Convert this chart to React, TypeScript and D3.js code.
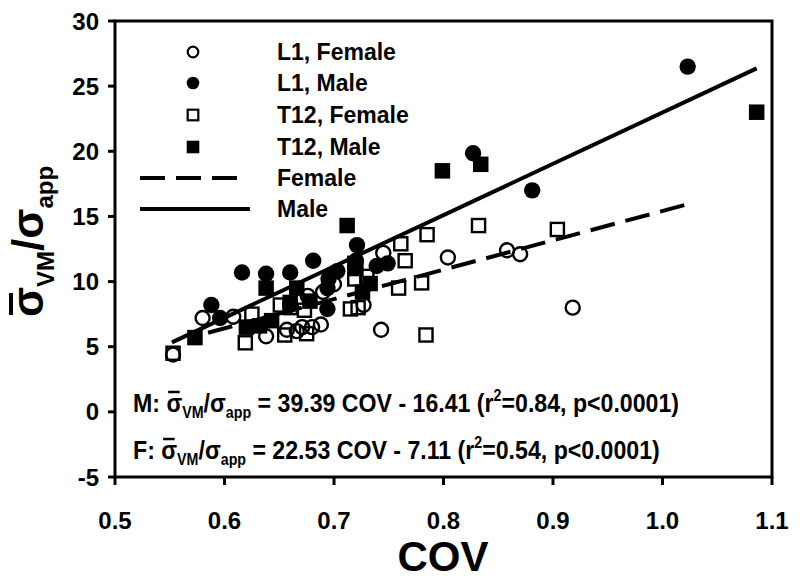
import React from "react";
import * as d3 from "d3";

const xTicks = [0.5, 0.6, 0.7, 0.8, 0.9, 1.0, 1.1];
const yTicks = [-5, 0, 5, 10, 15, 20, 25, 30];

// [COV, sigmaVM/sigmaApp]
const l1Female: [number, number][] = [
  [0.553, 4.4], [0.58, 7.2], [0.608, 7.3], [0.638, 5.8], [0.657, 6.3], [0.666, 6.2],
  [0.671, 6.5], [0.68, 6.5], [0.688, 6.7], [0.676, 8.9], [0.69, 9.2], [0.727, 8.2],
  [0.743, 6.3], [0.745, 12.2], [0.804, 11.85], [0.858, 12.4], [0.87, 12.1], [0.918, 8.0],
  [0.7, 9.8],
];
const l1Male: [number, number][] = [
  [0.588, 8.2], [0.596, 7.2], [0.616, 10.7], [0.638, 10.6], [0.66, 10.7], [0.681, 11.6],
  [0.703, 10.8], [0.721, 12.8], [0.739, 11.2], [0.749, 11.4], [0.694, 9.5], [0.695, 10.2],
  [0.694, 7.9], [0.827, 19.85], [0.881, 17.0], [1.023, 26.5], [0.66, 8.2], [0.72, 11.6],
];
const t12Female: [number, number][] = [
  [0.553, 4.5], [0.619, 5.3], [0.625, 7.5], [0.651, 8.2], [0.66, 8.0], [0.673, 7.8],
  [0.655, 5.9], [0.675, 6.0], [0.719, 10.2], [0.73, 10.4], [0.722, 8.0], [0.759, 9.5],
  [0.765, 11.6], [0.761, 12.9], [0.78, 9.9], [0.785, 13.6], [0.784, 5.9], [0.832, 14.3],
  [0.904, 14.0], [0.715, 7.9],
];
const t12Male: [number, number][] = [
  [0.573, 5.7], [0.62, 6.5], [0.632, 6.6], [0.638, 9.5], [0.66, 8.4], [0.678, 8.5],
  [0.712, 14.3], [0.719, 11.4], [0.726, 9.2], [0.733, 9.85], [0.72, 11.0], [0.799, 18.5],
  [0.834, 19.0], [1.086, 23.0], [0.643, 7.0], [0.666, 9.5],
];

// regression: slope, intercept, COV extent
const maleFit = { slope: 39.39, intercept: -16.41, x0: 0.552, x1: 1.086 };
const femaleFit = { slope: 22.53, intercept: -7.11, x0: 0.585, x1: 1.024 };

const legendItems = ["L1, Female", "L1, Male", "T12, Female", "T12, Male", "Female", "Male"];

const equations = [
  { lab: "M: ", eq: " = 39.39 COV - 16.41 (r", r2: "=0.84, p<0.0001)" },
  { lab: "F: ", eq: " = 22.53 COV - 7.11 (r", r2: "=0.54, p<0.0001)" },
];

const FONT = "Liberation Sans, Arial, Helvetica, sans-serif";

export default function App() {
  const x = d3.scaleLinear().domain([0.5, 1.1]).range([115, 772]);
  const y = d3.scaleLinear().domain([-5, 30]).range([477, 21]);

  const fitPath = (f: typeof maleFit) => {
    const l = d3
      .line<number>()
      .x((d) => x(d))
      .y((d) => y(f.slope * d + f.intercept));
    return l([f.x0, f.x1]) || "";
  };

  const R = 8.2;
  const S = 15.5;
  const circleOpen = (d: [number, number], i: number) => (
    <circle key={"co" + i} cx={x(d[0])} cy={y(d[1])} r={R - 1.2} fill="none" stroke="#000" strokeWidth={2.4} />
  );
  const circleFill = (d: [number, number], i: number) => (
    <circle key={"cf" + i} cx={x(d[0])} cy={y(d[1])} r={R} fill="#000" />
  );
  const sqOpen = (d: [number, number], i: number) => (
    <rect key={"so" + i} x={x(d[0]) - (S - 2.4) / 2} y={y(d[1]) - (S - 2.4) / 2} width={S - 2.4} height={S - 2.4} fill="none" stroke="#000" strokeWidth={2.4} />
  );
  const sqFill = (d: [number, number], i: number) => (
    <rect key={"sf" + i} x={x(d[0]) - S / 2} y={y(d[1]) - S / 2} width={S} height={S} fill="#000" />
  );

  const legY = [52, 83, 115, 147, 178, 209];
  const lr = 6.3;
  const eqY = [412, 459];
  const eqFs = 26;
  const labW = [37.5, 31.8];

  return (
    <svg width={800} height={580} style={{ position: "absolute", left: 0, top: 0, background: "#fff" }} fontFamily={FONT}>
      <rect x={0} y={0} width={800} height={580} fill="#fff" />
      {/* frame */}
      <rect x={115} y={21} width={657} height={456} fill="none" stroke="#000" strokeWidth={3} />
      {/* y ticks */}
      {yTicks.map((t) => (
        <g key={"yt" + t}>
          <line x1={108} x2={115} y1={y(t)} y2={y(t)} stroke="#000" strokeWidth={3} />
          <text x={99} y={y(t) + 8.5} textAnchor="end" fontSize={24} fontWeight="bold">
            {t}
          </text>
        </g>
      ))}
      {/* x ticks */}
      {xTicks.map((t) => (
        <g key={"xt" + t}>
          <line x1={x(t)} x2={x(t)} y1={477} y2={485} stroke="#000" strokeWidth={3} />
          <text x={x(t)} y={529} textAnchor="middle" fontSize={24} fontWeight="bold">
            {t.toFixed(1)}
          </text>
        </g>
      ))}
      <text x={443} y={571} textAnchor="middle" fontSize={42} fontWeight="bold">
        COV
      </text>
      {/* y label */}
      <g transform="translate(43,317) rotate(-90)">
        <line x1={2} x2={24} y1={-32} y2={-32} stroke="#000" strokeWidth={4} />
        <text x={0} y={0} fontSize={44} fontWeight="bold">
          <tspan>σ</tspan>
          <tspan fontSize={24} dy={11}>VM</tspan>
          <tspan dy={-11}>/σ</tspan>
          <tspan fontSize={24} dy={10}>app</tspan>
        </text>
      </g>

      {/* points */}
      {l1Female.map(circleOpen)}
      {t12Female.map(sqOpen)}
      {l1Male.map(circleFill)}
      {t12Male.map(sqFill)}

      {/* fits */}
      <path d={fitPath(femaleFit)} fill="none" stroke="#000" strokeWidth={4} strokeDasharray="25 11" />
      <path d={fitPath(maleFit)} fill="none" stroke="#000" strokeWidth={4} />

      {/* legend */}
      <circle cx={193} cy={legY[0]} r={lr - 1} fill="none" stroke="#000" strokeWidth={2.2} />
      <circle cx={193} cy={legY[1]} r={lr} fill="#000" />
      <rect x={193 - lr + 1} y={legY[2] - lr + 1} width={2 * lr - 2} height={2 * lr - 2} fill="none" stroke="#000" strokeWidth={2.2} />
      <rect x={193 - lr} y={legY[3] - lr} width={2 * lr} height={2 * lr} fill="#000" />
      <line x1={140} x2={238} y1={legY[4]} y2={legY[4]} stroke="#000" strokeWidth={4} strokeDasharray="25 11" />
      <line x1={140} x2={250} y1={legY[5]} y2={legY[5]} stroke="#000" strokeWidth={4} />
      {legendItems.map((s, i) => (
        <text key={s} x={277} y={legY[i] + 8} fontSize={23} fontWeight="bold">
          {s}
        </text>
      ))}

      {/* equations */}
      {equations.map((e, i) => (
        <g key={e.lab} transform={`translate(133,${eqY[i]}) scale(0.89,1)`}>
          <line x1={labW[i] + 2} x2={labW[i] + 15} y1={-20} y2={-20} stroke="#000" strokeWidth={2.5} />
          <text x={0} y={0} fontSize={eqFs} fontWeight="bold">
            <tspan>{e.lab}</tspan>
            <tspan>σ</tspan>
            <tspan fontSize={16} dy={6}>VM</tspan>
            <tspan dy={-6}>/σ</tspan>
            <tspan fontSize={16} dy={6}>app</tspan>
            <tspan dy={-6}>{e.eq}</tspan>
            <tspan fontSize={16} dy={-11}>2</tspan>
            <tspan dy={11}>{e.r2}</tspan>
          </text>
        </g>
      ))}
    </svg>
  );
}
